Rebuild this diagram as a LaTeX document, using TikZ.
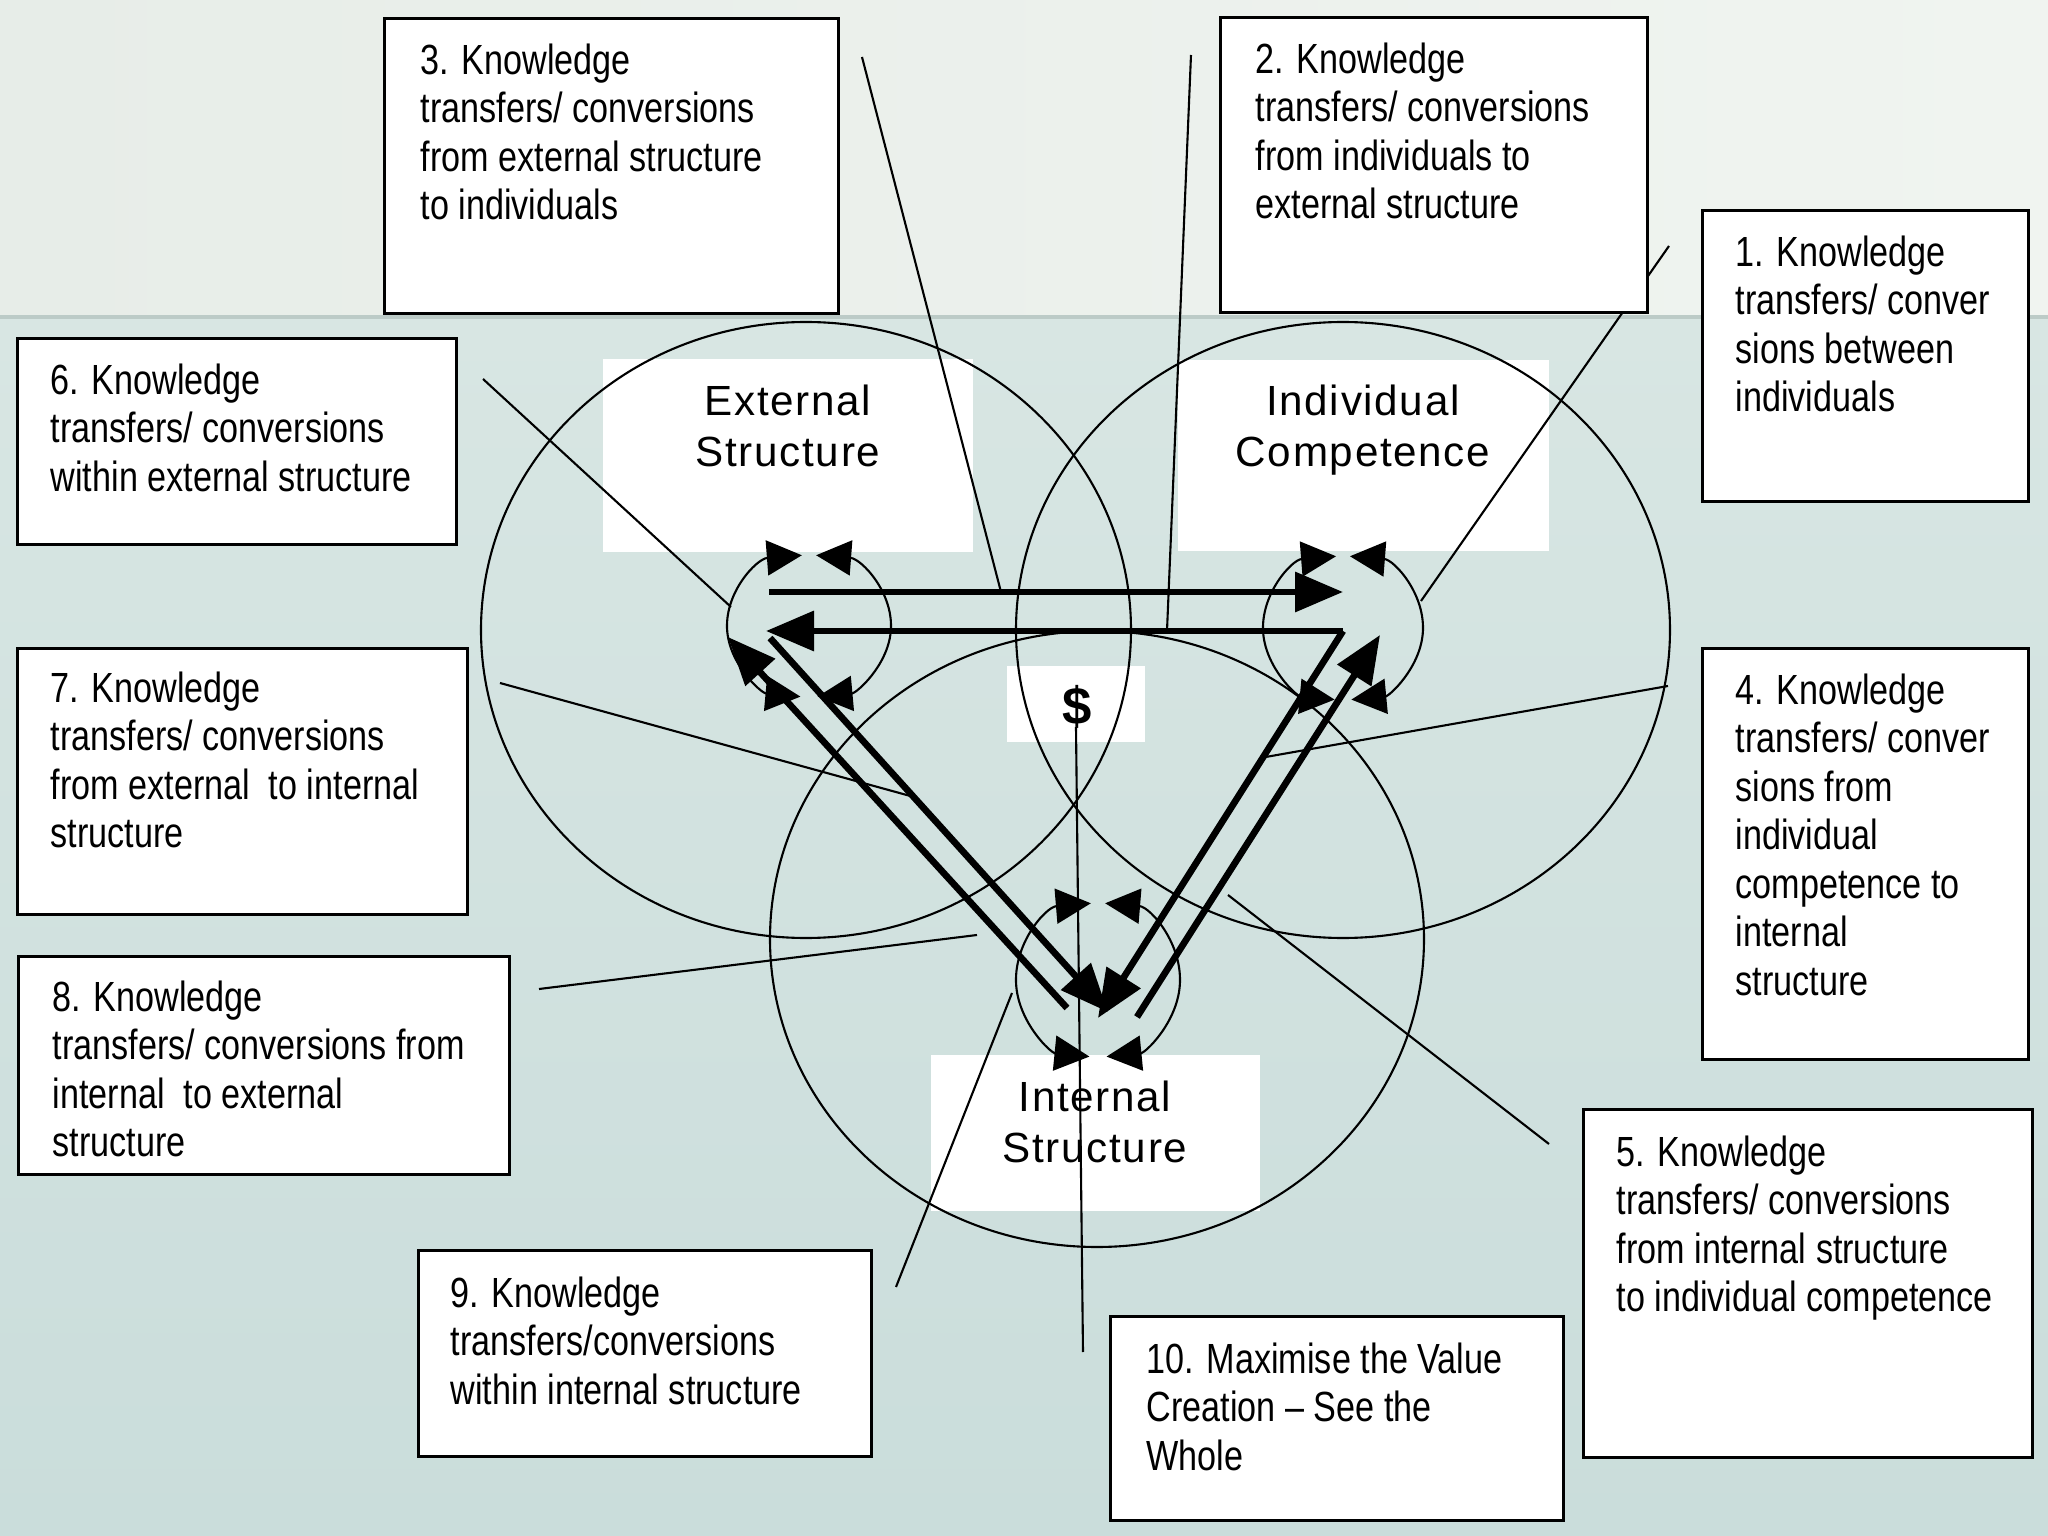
\documentclass[tikz,border=0pt]{standalone}
\usepackage{fontspec}
\setmainfont{Liberation Sans}[FakeStretch=0.81]
\newfontfamily\lblfont{Liberation Sans}[LetterSpace=4]
\usepackage{xcolor}
\usetikzlibrary{arrows.meta}

\definecolor{bgtop}{RGB}{231,237,232}
\definecolor{bgtopr}{RGB}{240,244,240}
\definecolor{bglow}{RGB}{216,230,227}
\definecolor{bglowd}{RGB}{202,221,219}
\definecolor{bgline}{RGB}{188,203,199}

\tikzset{
  numbox/.style={draw, fill=white, line width=0.9pt, anchor=north west, inner sep=0pt},
  numtext/.style={anchor=north west, inner sep=0pt, align=left, font=\fontsize{12}{13.8}\selectfont},
  lblbox/.style={fill=white, inner sep=0pt},
  lbltext/.style={anchor=north, inner sep=0pt, align=center, font=\lblfont\fontsize{12}{14.7}\selectfont},
  ring/.style={line width=0.6pt},
  cycarc/.style={line width=0.6pt, {Triangle[length=3.5mm,width=3.5mm]}-{Triangle[length=3.5mm,width=3.5mm]}},
  flow/.style={line width=1.9pt, -{Triangle[length=4.8mm,width=3.9mm]}},
  callout/.style={line width=0.6pt}
}

\begin{document}
\begin{tikzpicture}
    \useasboundingbox (0,0) rectangle (20.48,-15.36);
    \shade[left color=bgtop, right color=bgtopr] (0,0) rectangle (20.48,-3.17);
    \shade[top color=bglow, bottom color=bglowd] (0,-3.17) rectangle (20.48,-15.36);
    \draw[bgline, line width=1pt] (0,-3.17) -- (20.48,-3.17);

    \node[lblbox, minimum width=3.70cm, minimum height=1.93cm] (extbox) at (7.88,-4.555) {};
    \node[lblbox, minimum width=3.71cm, minimum height=1.91cm] (indbox) at (13.635,-4.555) {};
    \node[lblbox, minimum width=3.29cm, minimum height=1.56cm] (intbox) at (10.955,-11.33) {};
    \node[lblbox, minimum width=1.38cm, minimum height=0.76cm] (dolbox) at (10.76,-7.04) {};

    \coordinate (bigE) at (8.06,-6.30);
    \coordinate (bigI) at (13.43,-6.30);
    \coordinate (bigN) at (10.97,-9.39);
    \draw[ring] (bigE) ellipse [x radius=3.25, y radius=3.08];
    \draw[ring] (bigI) ellipse [x radius=3.27, y radius=3.08];
    \draw[ring] (bigN) ellipse [x radius=3.27, y radius=3.08];

    \coordinate (smE) at (8.09,-6.26);
    \coordinate (smI) at (13.43,-6.28);
    \coordinate (smN) at (10.98,-9.80);
    \draw[cycarc] (smE) ++(95:0.82 and 0.71) arc[start angle=95, end angle=264, x radius=0.82, y radius=0.71];
    \draw[cycarc] (smE) ++(85:0.82 and 0.71) arc[start angle=85, end angle=-84, x radius=0.82, y radius=0.71];
    \draw[cycarc] (smI) ++(95:0.80 and 0.72) arc[start angle=95, end angle=264, x radius=0.80, y radius=0.72];
    \draw[cycarc] (smI) ++(85:0.80 and 0.72) arc[start angle=85, end angle=-84, x radius=0.80, y radius=0.72];
    \draw[cycarc] (smN) ++(95:0.82 and 0.77) arc[start angle=95, end angle=264, x radius=0.82, y radius=0.77];
    \draw[cycarc] (smN) ++(85:0.82 and 0.77) arc[start angle=85, end angle=-84, x radius=0.82, y radius=0.77];

    \coordinate (tE1) at (7.69,-5.92);
    \coordinate (tI1) at (13.43,-5.92);
    \coordinate (tI2) at (13.43,-6.31);
    \coordinate (tE2) at (7.66,-6.31);
    \coordinate (aN) at (10.67,-10.08);
    \coordinate (aE) at (7.28,-6.37);
    \coordinate (bE) at (7.70,-6.38);
    \coordinate (bN) at (11.08,-10.12);
    \coordinate (cN) at (11.37,-10.17);
    \coordinate (cI) at (13.80,-6.35);
    \coordinate (dI) at (13.43,-6.31);
    \coordinate (dN) at (10.98,-10.18);
    \begin{scope}[flow]
      \draw (tE1) -- (tI1);
      \draw (tI2) -- (tE2);
      \draw (aN) -- (aE);
      \draw (bE) -- (bN);
      \draw (cN) -- (cI);
      \draw (dI) -- (dN);
    \end{scope}

    \coordinate (c1) at (16.69,-2.46);  \coordinate (e1) at (14.21,-6.01);
    \coordinate (c2) at (11.91,-0.55);  \coordinate (e2) at (11.67,-6.31);
    \coordinate (c3) at (8.62,-0.57);   \coordinate (e3) at (10.01,-5.92);
    \coordinate (c4) at (16.68,-6.86);  \coordinate (e4) at (12.60,-7.58);
    \coordinate (c5) at (15.49,-11.44); \coordinate (e5) at (12.28,-8.95);
    \coordinate (c6) at (4.83,-3.79);   \coordinate (e6) at (7.31,-6.07);
    \coordinate (c7) at (5.00,-6.83);   \coordinate (e7) at (9.14,-7.97);
    \coordinate (c8) at (5.39,-9.89);   \coordinate (e8) at (9.77,-9.35);
    \coordinate (c9) at (8.96,-12.87);  \coordinate (e9) at (10.12,-9.93);
    \coordinate (c10) at (10.83,-13.52); \coordinate (e10) at (10.76,-7.27);
    \begin{scope}[callout]
      \draw (c1) -- (e1);
      \draw (c2) -- (e2);
      \draw (c3) -- (e3);
      \draw (c4) -- (e4);
      \draw (c5) -- (e5);
      \draw (c6) -- (e6);
      \draw (c7) -- (e7);
      \draw (c8) -- (e8);
      \draw (c9) -- (e9);
      \draw (c10) -- (e10);
    \end{scope}

    \node[lbltext] (exttext) at (7.88,-3.84) {External\\Structure};
    \node[lbltext] (indtext) at (13.63,-3.84) {Individual\\Competence};
    \node[lbltext] (inttext) at (10.95,-10.80) {Internal\\Structure};
    \node[inner sep=0pt, font=\lblfont\bfseries\fontsize{15}{17}\selectfont] (doltext) at (10.77,-7.07) {\$};

    \node[numbox, minimum width=3.26cm, minimum height=2.91cm] (box1) at (17.01,-2.09) {};
    \node[numtext] (txt1) at ([shift={(0.34,-0.26)}]box1.north west) {1. Knowledge\\transfers/ conver\\sions between\\individuals};
    \node[numbox, minimum width=4.27cm, minimum height=2.95cm] (box2) at (12.19,-0.16) {};
    \node[numtext] (txt2) at ([shift={(0.36,-0.26)}]box2.north west) {2. Knowledge\\transfers/ conversions\\from individuals to\\external structure};
    \node[numbox, minimum width=4.54cm, minimum height=2.95cm] (box3) at (3.83,-0.17) {};
    \node[numtext] (txt3) at ([shift={(0.37,-0.26)}]box3.north west) {3. Knowledge\\transfers/ conversions\\from external structure\\to individuals};
    \node[numbox, minimum width=3.26cm, minimum height=4.11cm] (box4) at (17.01,-6.47) {};
    \node[numtext] (txt4) at ([shift={(0.34,-0.26)}]box4.north west) {4. Knowledge\\transfers/ conver\\sions from\\individual\\competence to\\internal\\structure};
    \node[numbox, minimum width=4.49cm, minimum height=3.48cm] (box5) at (15.82,-11.08) {};
    \node[numtext] (txt5) at ([shift={(0.34,-0.27)}]box5.north west) {5. Knowledge\\transfers/ conversions\\from internal structure\\to individual competence};
    \node[numbox, minimum width=4.39cm, minimum height=2.06cm] (box6) at (0.16,-3.37) {};
    \node[numtext] (txt6) at ([shift={(0.34,-0.26)}]box6.north west) {6. Knowledge\\transfers/ conversions\\within external structure};
    \node[numbox, minimum width=4.50cm, minimum height=2.66cm] (box7) at (0.16,-6.47) {};
    \node[numtext] (txt7) at ([shift={(0.34,-0.24)}]box7.north west) {7. Knowledge\\transfers/ conversions\\from external\ \ to internal\\structure};
    \node[numbox, minimum width=4.91cm, minimum height=2.18cm] (box8) at (0.17,-9.55) {};
    \node[numtext] (txt8) at ([shift={(0.35,-0.25)}]box8.north west) {8. Knowledge\\transfers/ conversions from\\internal\ \ to external\\structure};
    \node[numbox, minimum width=4.53cm, minimum height=2.06cm] (box9) at (4.17,-12.49) {};
    \node[numtext] (txt9) at ([shift={(0.33,-0.27)}]box9.north west) {9. Knowledge\\transfers/conversions\\within internal structure};
    \node[numbox, minimum width=4.53cm, minimum height=2.04cm] (box10) at (11.09,-13.15) {};
    \node[numtext] (txt10) at ([shift={(0.37,-0.27)}]box10.north west) {10. Maximise the Value\\Creation -- See the\\Whole};
  \end{tikzpicture}
\end{document}
